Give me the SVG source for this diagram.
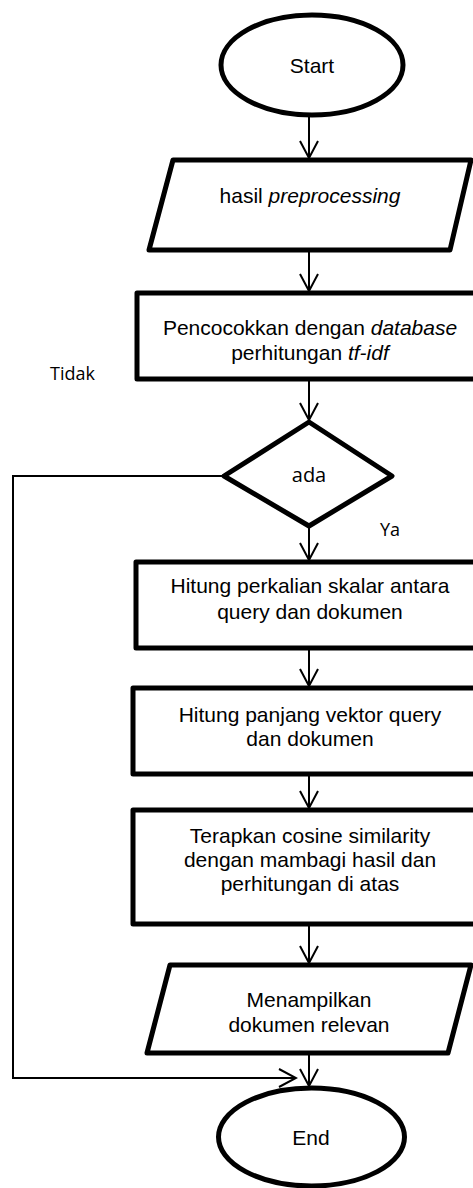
<svg xmlns="http://www.w3.org/2000/svg" width="473" height="1188" viewBox="0 0 473 1188">
  <defs>
    <marker id="arrow" viewBox="0 0 20 20" refX="18" refY="10" markerWidth="20" markerHeight="20" markerUnits="userSpaceOnUse" orient="auto">
      <path d="M1,1 L18,10 L1,19" fill="none" stroke="#000" stroke-width="2"/>
    </marker>
    <style>
      .shape { fill: #fff; stroke: #000; stroke-width: 5; stroke-linejoin: round; }
      .conn { fill: none; stroke: #000; stroke-width: 2; }
      .lbl { font-family: "Liberation Sans", Arial, sans-serif; font-size: 21px; fill: #000; text-anchor: middle; }
      .note { font-family: "Open Sans", "Noto Sans", sans-serif; font-size: 18px; fill: #000; }
      .dec { font-family: "Open Sans", "Noto Sans", sans-serif; font-size: 20px; fill: #000; text-anchor: middle; }
      .it { font-style: italic; }
    </style>
  </defs>

  <rect width="473" height="1188" fill="#fff"/>

  <!-- connectors -->
  <g id="connectors">
    <line class="conn" x1="309" y1="117" x2="309" y2="158" marker-end="url(#arrow)"/>
    <line class="conn" x1="309" y1="252" x2="309" y2="291" marker-end="url(#arrow)"/>
    <line class="conn" x1="309" y1="381" x2="309" y2="420" marker-end="url(#arrow)"/>
    <line class="conn" x1="309" y1="528" x2="309" y2="560" marker-end="url(#arrow)"/>
    <line class="conn" x1="309" y1="650" x2="309" y2="686" marker-end="url(#arrow)"/>
    <line class="conn" x1="309" y1="776" x2="309" y2="808" marker-end="url(#arrow)"/>
    <line class="conn" x1="309" y1="926" x2="309" y2="963" marker-end="url(#arrow)"/>
    <line class="conn" x1="309" y1="1055" x2="309" y2="1086" marker-end="url(#arrow)"/>
    <polyline class="conn" points="222,476 13,476 13,1078 296,1078" marker-end="url(#arrow)"/>
    <text class="note" x="50" y="380">Tidak</text>
    <text class="note" x="380" y="536">Ya</text>
  </g>

  <g id="start">
    <ellipse class="shape" cx="312" cy="65" rx="91" ry="50"/>
    <text class="lbl" x="312" y="73">Start</text>
  </g>

  <g id="input-preprocessing">
    <polygon class="shape" points="173,160 471,160 450,250 149,250"/>
    <text class="lbl" x="310" y="203">hasil <tspan class="it">preprocessing</tspan></text>
  </g>

  <g id="match-database">
    <rect class="shape" x="137" y="293" width="345" height="86"/>
    <text class="lbl" x="310" y="335">Pencocokkan dengan <tspan class="it">database</tspan></text>
    <text class="lbl" x="310" y="360">perhitungan <tspan class="it">tf-idf</tspan></text>
  </g>

  <g id="decision-ada">
    <polygon class="shape" points="309,422 392,476 309,526 224,476"/>
    <text class="dec" x="309" y="482">ada</text>
  </g>

  <g id="dot-product">
    <rect class="shape" x="136" y="562" width="346" height="86"/>
    <text class="lbl" x="310" y="593">Hitung perkalian skalar antara</text>
    <text class="lbl" x="310" y="619">query dan dokumen</text>
  </g>

  <g id="vector-length">
    <rect class="shape" x="133" y="688" width="349" height="86"/>
    <text class="lbl" x="310" y="722">Hitung panjang vektor query</text>
    <text class="lbl" x="310" y="746">dan dokumen</text>
  </g>

  <g id="cosine-similarity">
    <rect class="shape" x="133" y="810" width="349" height="114"/>
    <text class="lbl" x="310" y="843">Terapkan cosine similarity</text>
    <text class="lbl" x="310" y="867">dengan mambagi hasil dan</text>
    <text class="lbl" x="310" y="891">perhitungan di atas</text>
  </g>

  <g id="output-relevant">
    <polygon class="shape" points="170,965 471,965 448,1053 147,1053"/>
    <text class="lbl" x="309" y="1007">Menampilkan</text>
    <text class="lbl" x="309" y="1032">dokumen relevan</text>
  </g>

  <g id="end">
    <ellipse class="shape" cx="311.5" cy="1137" rx="93" ry="49"/>
    <text class="lbl" x="311" y="1145">End</text>
  </g>
</svg>
